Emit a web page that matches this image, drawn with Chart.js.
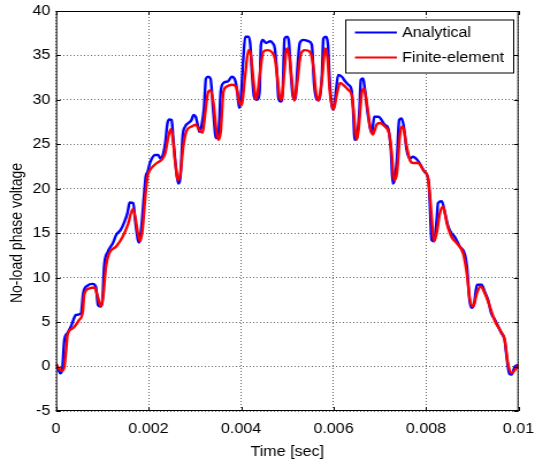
<!DOCTYPE html>
<html>
  <head>
    <script src="https://cdn.jsdelivr.net/npm/chart.js"></script>
    <style>
      body { margin: 0; overflow: hidden; background: #fff; }
      /* drawn a bit narrower, then widened like the exported figure */
      #voltageChart { transform: scaleX(1.1505); transform-origin: 0 0; }
    </style>
  </head>
  <body>
    <canvas id="voltageChart" width="465" height="462"></canvas>

    <script type="text/javascript">
      // axis ticks
      var xTicks = [0, 0.002, 0.004, 0.006, 0.008, 0.01];
      var xTickLabels = ['0', '0.002', '0.004', '0.006', '0.008', '0.01'];
      var yTicks = [-5, 0, 5, 10, 15, 20, 25, 30, 35, 40];
      var yTickLabels = ['-5', '0', '5', '10', '15', '20', '25', '30', '35', '40'];

      // analytical no-load phase voltage
      var timeAnalytical = [
        0, 0.00005, 0.00009, 0.00013, 0.00018, 0.00025, 0.00033, 0.00043, 0.00054, 0.00059,
        0.00068, 0.00079, 0.00086, 0.00091, 0.00096, 0.00100, 0.00104, 0.00112, 0.00123, 0.00130,
        0.00140, 0.00148, 0.00155, 0.00159, 0.00167, 0.00171, 0.00177, 0.00180, 0.00184, 0.00190,
        0.00194, 0.00198, 0.00203, 0.00214, 0.00221, 0.00226, 0.00232, 0.00236, 0.00241, 0.00245,
        0.00250, 0.00253, 0.00259, 0.00264, 0.00269, 0.00274, 0.00279, 0.00286, 0.00293, 0.00297,
        0.00302, 0.00307, 0.00310, 0.00315, 0.00320, 0.00324, 0.00329, 0.00334, 0.00340, 0.00346,
        0.00351, 0.00356, 0.00362, 0.00372, 0.00380, 0.00387, 0.00392, 0.00396, 0.00399, 0.00405,
        0.00409, 0.00416, 0.00420, 0.00423, 0.00428, 0.00434, 0.00440, 0.00443, 0.00447, 0.00454,
        0.00463, 0.00468, 0.00473, 0.00477, 0.00481, 0.00486, 0.00490, 0.00494, 0.00499, 0.00503,
        0.00507, 0.00512, 0.00517, 0.00522, 0.00527, 0.00535, 0.00546, 0.00553, 0.00558, 0.00564,
        0.00570, 0.00575, 0.00578, 0.00583, 0.00588, 0.00591, 0.00596, 0.00600, 0.00605, 0.00610,
        0.00618, 0.00625, 0.00632, 0.00639, 0.00642, 0.00646, 0.00650, 0.00656, 0.00659, 0.00664,
        0.00667, 0.00675, 0.00683, 0.00688, 0.00697, 0.00711, 0.00718, 0.00724, 0.00728, 0.00731,
        0.00737, 0.00742, 0.00747, 0.00752, 0.00758, 0.00765, 0.00772, 0.00781, 0.00788, 0.00797,
        0.00805, 0.00808, 0.00812, 0.00817, 0.00823, 0.00826, 0.00834, 0.00841, 0.00848, 0.00855,
        0.00862, 0.00873, 0.00884, 0.00889, 0.00894, 0.00899, 0.00904, 0.00910, 0.00920, 0.00927,
        0.00934, 0.00941, 0.00949, 0.00956, 0.00963, 0.00970, 0.00975, 0.00980, 0.00985, 0.00992,
        0.01
      ];
      var voltageAnalytical = [
        0.3, -0.3, -0.75, -0.5, 3.0, 3.8, 4.6, 5.8, 6.0, 8.3,
        9.1, 9.3, 9.0, 6.9, 6.75, 7.2, 11.25, 12.9, 13.9, 14.8,
        15.4, 16.3, 17.4, 18.45, 18.4, 16.5, 14.25, 13.95, 15.4, 19.1,
        21.4, 21.9, 22.9, 23.8, 23.8, 23.4, 24.0, 25.1, 27.4, 27.8,
        27.75, 25.9, 22.5, 20.6, 21.4, 26.0, 27.0, 27.4, 27.75, 28.3,
        28.1, 27.0, 26.4, 27.2, 29.1, 32.4, 32.6, 32.4, 28.7, 25.7,
        25.9, 30.9, 31.9, 32.1, 32.6, 32.25, 30.9, 29.1, 29.8, 34.7,
        37.1, 37.1, 36.2, 33.6, 30.4, 30.0, 30.9, 36.2, 36.75, 36.4,
        36.6, 36.4, 35.8, 33.6, 30.2, 29.8, 30.9, 36.9, 37.1, 36.75,
        33.6, 30.4, 30.0, 33.6, 36.4, 36.75, 36.6, 36.2, 31.7, 30.0,
        30.0, 32.8, 36.9, 37.1, 36.2, 32.8, 29.4, 28.9, 30.9, 32.8,
        32.6, 32.1, 31.7, 31.1, 29.25, 25.5, 25.7, 28.9, 32.25, 32.4,
        31.5, 28.1, 26.25, 28.1, 28.1, 27.2, 26.8, 24.4, 20.6, 20.8,
        23.25, 27.75, 27.9, 27.0, 24.4, 23.4, 23.6, 23.25, 22.7, 21.9,
        21.0, 18.75, 14.25, 14.1, 16.5, 18.4, 18.6, 17.25, 15.75, 15.0,
        14.6, 13.5, 12.6, 10.9, 7.5, 6.6, 7.1, 9.2, 9.2, 8.4,
        7.5, 6.0, 5.25, 4.5, 3.75, 3.0, 0.75, -0.8, -0.9, 0.0,
        0.2
      ];

      // finite-element no-load phase voltage
      var timeFiniteElement = [
        0, 0.00006, 0.00013, 0.00018, 0.00022, 0.00025, 0.00036, 0.00050, 0.00058, 0.00061,
        0.00072, 0.00083, 0.00090, 0.00097, 0.00102, 0.00108, 0.00115, 0.00130, 0.00144, 0.00155,
        0.00166, 0.00171, 0.00177, 0.00182, 0.00187, 0.00193, 0.00198, 0.00203, 0.00218, 0.00228,
        0.00236, 0.00243, 0.00248, 0.00252, 0.00257, 0.00264, 0.00269, 0.00275, 0.00282, 0.00293,
        0.00302, 0.00310, 0.00317, 0.00322, 0.00329, 0.00334, 0.00340, 0.00347, 0.00351, 0.00356,
        0.00362, 0.00369, 0.00380, 0.00389, 0.00396, 0.00401, 0.00409, 0.00416, 0.00421, 0.00427,
        0.00432, 0.00436, 0.00443, 0.00448, 0.00457, 0.00466, 0.00473, 0.00478, 0.00484, 0.00488,
        0.00493, 0.00499, 0.00504, 0.00510, 0.00515, 0.00522, 0.00529, 0.00538, 0.00549, 0.00556,
        0.00562, 0.00567, 0.00575, 0.00582, 0.00587, 0.00592, 0.00600, 0.00607, 0.00614, 0.00625,
        0.00632, 0.00639, 0.00643, 0.00646, 0.00650, 0.00654, 0.00661, 0.00666, 0.00672, 0.00679,
        0.00685, 0.00693, 0.00700, 0.00711, 0.00720, 0.00725, 0.00731, 0.00737, 0.00744, 0.00750,
        0.00757, 0.00765, 0.00772, 0.00783, 0.00794, 0.00805, 0.00812, 0.00817, 0.00823, 0.00830,
        0.00837, 0.00845, 0.00855, 0.00866, 0.00880, 0.00888, 0.00895, 0.00902, 0.00910, 0.00918,
        0.00927, 0.00938, 0.00949, 0.00960, 0.00970, 0.00977, 0.00985, 0.00992, 0.01
      ];
      var voltageFiniteElement = [
        0.3, -0.2, -0.5, 0.0, 2.0, 3.6, 4.3, 5.25, 6.2, 8.1,
        8.8, 8.9, 7.9, 6.8, 7.9, 11.25, 12.75, 13.5, 14.6, 15.9,
        17.7, 16.9, 15.0, 14.1, 15.4, 19.1, 21.4, 22.1, 22.9, 23.25,
        24.0, 25.9, 26.7, 25.9, 23.25, 21.0, 21.75, 24.75, 26.5, 27.0,
        27.2, 26.6, 26.3, 28.3, 30.9, 31.1, 29.8, 26.4, 25.5, 26.4,
        30.9, 31.5, 31.7, 31.5, 29.8, 29.4, 32.8, 35.6, 35.1, 32.1,
        30.0, 30.9, 33.9, 35.4, 35.6, 35.4, 34.7, 32.8, 30.2, 30.0,
        32.8, 35.8, 35.1, 32.1, 29.9, 32.1, 35.1, 35.6, 35.4, 33.9,
        30.9, 29.9, 32.4, 35.8, 34.7, 30.9, 28.9, 30.6, 31.9, 31.5,
        31.1, 30.6, 29.0, 27.0, 25.5, 26.6, 30.75, 31.3, 29.6, 27.0,
        26.1, 27.2, 27.4, 27.0, 26.25, 24.4, 21.0, 21.75, 26.25, 27.0,
        25.1, 23.25, 22.9, 22.9, 22.1, 21.0, 16.9, 14.1, 15.0, 17.25,
        18.0, 16.1, 14.6, 13.9, 12.75, 10.5, 7.5, 6.75, 8.25, 9.0,
        8.25, 6.75, 5.1, 4.1, 3.0, 0.4, -0.75, -0.4, 0.2
      ];

      var yTitle = 'No-load phase voltage';
      var fontFamily = "'Liberation Sans', Arial, Helvetica, sans-serif";

      function toPoints(xs, ys) {
        return xs.map(function (x, i) { return {x: x, y: ys[i]}; });
      }

      // box round the axes, inward tick marks, rotated y label and the legend
      var axesBox = {
        id: 'axesBox',
        afterDraw: function (chart) {
          var ctx = chart.ctx;
          var a = chart.chartArea;
          var xs = chart.scales.x, ys = chart.scales.y;
          ctx.save();
          ctx.strokeStyle = '#000';
          ctx.lineWidth = 1;
          ctx.strokeRect(a.left + 0.5, a.top + 0.5, a.right - a.left - 1, a.bottom - a.top - 1);

          ctx.beginPath();
          xTicks.forEach(function (v) {
            var px = Math.round(xs.getPixelForValue(v)) + 0.5;
            ctx.moveTo(px, a.bottom); ctx.lineTo(px, a.bottom - 4);
            ctx.moveTo(px, a.top); ctx.lineTo(px, a.top + 4);
          });
          yTicks.forEach(function (v) {
            var py = Math.round(ys.getPixelForValue(v)) + 0.5;
            ctx.moveTo(a.left, py); ctx.lineTo(a.left + 4, py);
            ctx.moveTo(a.right, py); ctx.lineTo(a.right - 4, py);
          });
          ctx.stroke();

          // y axis label
          ctx.fillStyle = '#000';
          ctx.font = '14px ' + fontFamily;
          ctx.textAlign = 'center';
          ctx.textBaseline = 'middle';
          ctx.translate(15.5, 233);
          ctx.rotate(-Math.PI / 2);
          ctx.fillText(yTitle, 0, 0);
          ctx.restore();

          // legend
          ctx.save();
          var lx = 300, ly = 19.5, lw = 146, lh = 53;
          ctx.fillStyle = '#fff';
          ctx.fillRect(lx, ly, lw, lh);
          ctx.strokeStyle = '#000';
          ctx.lineWidth = 1;
          ctx.strokeRect(lx + 0.5, ly + 0.5, lw, lh);
          ctx.font = '14px ' + fontFamily;
          ctx.textAlign = 'left';
          ctx.textBaseline = 'middle';
          chart.data.datasets.forEach(function (ds, i) {
            var y = ly + 13 + i * 25;
            ctx.strokeStyle = ds.borderColor;
            ctx.lineWidth = 2;
            ctx.beginPath();
            ctx.moveTo(lx + 8.5, y);
            ctx.lineTo(lx + 45, y);
            ctx.stroke();
            ctx.fillStyle = '#000';
            ctx.fillText(ds.label, lx + 49.5, y + 1);
          });
          ctx.restore();
        }
      };

      var ctx = document.getElementById('voltageChart');

      new Chart(ctx, {
        type: 'line',
        data: {
          datasets: [{
            label: 'Analytical',
            data: toPoints(timeAnalytical, voltageAnalytical),
            borderColor: '#0000ff',
            borderWidth: 2.4,
            pointRadius: 0,
            cubicInterpolationMode: 'monotone',
            order: 2
          }, {
            label: 'Finite-element',
            data: toPoints(timeFiniteElement, voltageFiniteElement),
            borderColor: '#ff0000',
            borderWidth: 2.4,
            pointRadius: 0,
            cubicInterpolationMode: 'monotone',
            order: 1
          }]
        },
        options: {
          responsive: false,
          animation: false,
          events: [],
          layout: { padding: { left: 0, right: 14.3, top: 11, bottom: 0 } },
          plugins: {
            legend: { display: false },
            tooltip: { enabled: false }
          },
          scales: {
            x: {
              type: 'linear',
              min: 0,
              max: 0.01,
              afterBuildTicks: function (s) { s.ticks = xTicks.map(function (v) { return {value: v}; }); },
              afterFit: function (s) { s.height = 51; s.paddingLeft = 0; s.paddingRight = 0; },
              ticks: {
                autoSkip: false,
                maxRotation: 0,
                padding: 10,
                color: '#000',
                font: { family: fontFamily, size: 14 },
                callback: function (v, i) { return xTickLabels[i]; }
              },
              grid: { color: 'rgba(0,0,0,0.6)', lineWidth: 1, drawTicks: false },
              border: { display: false, dash: [1, 2] },
              title: {
                display: true,
                text: 'Time [sec]',
                color: '#000',
                font: { family: fontFamily, size: 14 },
                padding: { top: 0, bottom: 1 }
              }
            },
            y: {
              min: -5,
              max: 40,
              afterBuildTicks: function (s) { s.ticks = yTicks.map(function (v) { return {value: v}; }); },
              afterFit: function (s) { s.width = 48.7; s.paddingTop = 0; s.paddingBottom = 0; },
              ticks: {
                autoSkip: false,
                padding: 5,
                color: '#000',
                font: { family: fontFamily, size: 14 },
                callback: function (v, i) { return yTickLabels[i]; }
              },
              grid: { color: 'rgba(0,0,0,0.6)', lineWidth: 1, drawTicks: false },
              border: { display: false, dash: [1, 2] }
            }
          }
        },
        plugins: [axesBox]
      });
    </script>
  </body>
</html>
